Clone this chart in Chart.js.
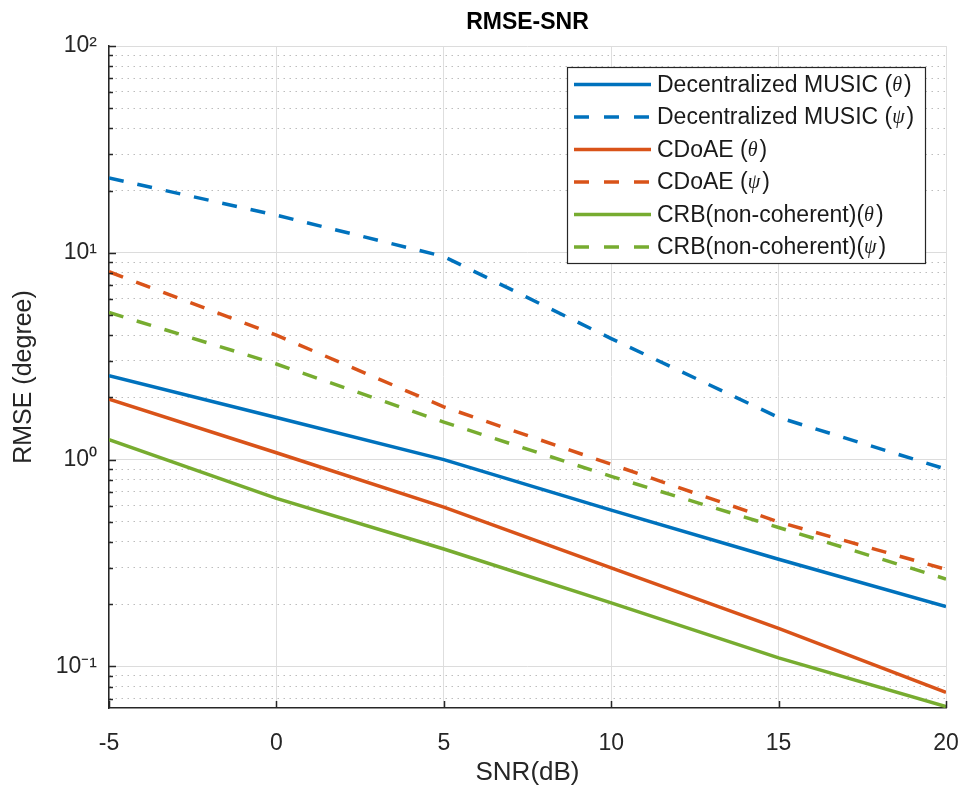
<!DOCTYPE html>
<html><head><meta charset="utf-8">
<script src="https://cdn.jsdelivr.net/npm/chart.js@4"></script>
<style>html,body{margin:0;padding:0;background:#fff}</style>
</head><body>
<canvas id="c" width="965" height="794"></canvas>
<script>
const snr = [-5, 0, 5, 10, 15, 20];
const musicTheta = [2.55, 1.6, 1.0, 0.57, 0.33, 0.195];
const musicPsi   = [23, 15.2, 9.6, 3.85, 1.6, 0.9];
const cdoaeTheta = [1.96, 1.08, 0.59, 0.30, 0.153, 0.075];
const cdoaePsi   = [8.1, 4.0, 1.8, 0.95, 0.50, 0.295];
const crbTheta   = [1.25, 0.65, 0.37, 0.203, 0.11, 0.064];
const crbPsi     = [5.15, 2.9, 1.52, 0.83, 0.47, 0.265];

const seriesLabels = ['Decentralized MUSIC (θ)','Decentralized MUSIC (ψ)','CDoAE (θ)','CDoAE (ψ)','CRB(non-coherent)(θ)','CRB(non-coherent)(ψ)'];
const xTicks = [-5, 0, 5, 10, 15, 20];
const yTickValues = [0.07,0.08,0.09,0.1,0.2,0.3,0.4,0.5,0.6,0.7,0.8,0.9,1,2,3,4,5,6,7,8,9,10,20,30,40,50,60,70,80,90,100];
const yMajor = [0.1, 1, 10, 100];
const yMajorLabels = {'0.1':'10⁻¹','1':'10⁰','10':'10¹','100':'10²'};

const BLUE = '#0072BD', ORANGE = '#D95319', GREEN = '#77AC30';
const FONT = "'Liberation Sans', Arial, Helvetica, sans-serif";
const DASH = [15, 14];

function pts(arr){ return snr.map((s,i)=>({x:s, y:arr[i]})); }
function ds(label, data, color, dashed){
  return {label, data: pts(data), borderColor: color, backgroundColor: color,
    borderWidth: 3.5, borderDash: dashed ? DASH : [], pointRadius: 0, tension: 0, fill: false, borderCapStyle:'butt'};
}

const overlay = {
  id: 'overlay',
  afterDraw(chart){
    const {ctx, chartArea: a, scales: {x, y}} = chart;
    ctx.save();
    ctx.strokeStyle = '#262626'; ctx.lineWidth = 1.5;
    ctx.beginPath();
    y.ticks.forEach(t => {
      const py = Math.round(y.getPixelForValue(t.value)) + 0.5;
      const len = yMajor.includes(t.value) ? 7 : 4;
      ctx.moveTo(a.left, py); ctx.lineTo(a.left + len, py);
    });
    x.ticks.forEach(t => {
      const px = Math.round(x.getPixelForValue(t.value)) + 0.5;
      ctx.moveTo(px, a.bottom); ctx.lineTo(px, a.bottom - 7);
    });
    ctx.stroke();

    // legend
    const bx = a.right - 379, by = a.top + 21, bw = 358, bh = 196;
    ctx.fillStyle = '#fff';
    ctx.fillRect(bx, by, bw, bh);
    ctx.lineWidth = 1.2; ctx.strokeStyle = '#262626';
    ctx.strokeRect(bx + 0.5, by + 0.5, bw, bh);
    const rowH = 32.5, y0 = by + 17.5;
    chart.data.datasets.forEach((d, i) => {
      const ry = y0 + i * rowH;
      ctx.save();
      ctx.strokeStyle = d.borderColor; ctx.lineWidth = 3.5;
      ctx.setLineDash(d.borderDash.length ? [15, 15] : []);
      ctx.beginPath(); ctx.moveTo(bx + 7, ry); ctx.lineTo(bx + 84, ry); ctx.stroke();
      ctx.restore();
      let tx = bx + 90;
      ctx.fillStyle = '#1a1a1a'; ctx.textBaseline = 'middle';
      d.label.split(/([θψ])/).forEach(part => {
        if (!part) return;
        const greek = (part === 'θ' || part === 'ψ');
        ctx.font = greek ? "italic 20px 'Liberation Serif', 'DejaVu Serif', serif" : "23px " + FONT;
        ctx.fillText(part, tx, ry + 1);
        tx += ctx.measureText(part).width + (greek ? 2 : 0);
      });
    });
    ctx.restore();
  }
};

new Chart(document.getElementById('c'), {
  type: 'line',
  data: { datasets: [
    ds(seriesLabels[0], musicTheta, BLUE, false),
    ds(seriesLabels[1], musicPsi, BLUE, true),
    ds(seriesLabels[2], cdoaeTheta, ORANGE, false),
    ds(seriesLabels[3], cdoaePsi, ORANGE, true),
    ds(seriesLabels[4], crbTheta, GREEN, false),
    ds(seriesLabels[5], crbPsi, GREEN, true)
  ]},
  options: {
    responsive: false, animation: false, devicePixelRatio: 1,
    layout: { padding: { left: 0, right: 19, top: 0, bottom: 0 } },
    plugins: {
      legend: { display: false }, tooltip: { enabled: false },
      title: { display: true, text: 'RMSE-SNR', fullSize: false, color: '#000',
        font: { family: FONT, size: 23, weight: 'bold' }, padding: { top: 8.5, bottom: 9.9 } }
    },
    scales: {
      x: {
        type: 'linear', min: -5, max: 20,
        afterBuildTicks(s){ s.ticks = xTicks.map(v => ({value: v})); },
        ticks: { font: { family: FONT, size: 23 }, color: '#262626', padding: 22, maxRotation: 0, autoSkip: false },
        grid: { drawTicks: false, color: '#dedede', lineWidth: 1 },
        border: { color: '#262626', width: 1.5 },
        title: { display: true, text: 'SNR(dB)', color: '#262626', font: { family: FONT, size: 26 }, padding: { top: 4, bottom: 6 } },
        afterFit(s){ s.height = 86; s.paddingLeft = 0; s.paddingRight = 0; }
      },
      y: {
        type: 'logarithmic', min: 0.063, max: 100,
        afterBuildTicks(s){ s.ticks = yTickValues.map(v => ({value: v})); },
        ticks: { autoSkip: false, font: { family: FONT, size: 23 }, color: '#262626', padding: 12,
          callback: (v) => yMajorLabels[String(v)] || '' },
        grid: { drawTicks: false, lineWidth: 1,
          color: (c) => (c.tick && yMajor.includes(c.tick.value)) ? '#dcdcdc' : '#bdbdbd' },
        border: { color: '#262626', width: 1.5,
          dash: (c) => (c.tick && !yMajor.includes(c.tick.value)) ? [1.5, 4.5] : [] },
        title: { display: true, text: 'RMSE (degree)', color: '#262626', font: { family: FONT, size: 25 }, padding: { top: 9, bottom: 4 } },
        afterFit(s){ s.width = 109; s.paddingTop = 0; s.paddingBottom = 0; }
      }
    }
  },
  plugins: [overlay]
});
</script>
</body></html>
